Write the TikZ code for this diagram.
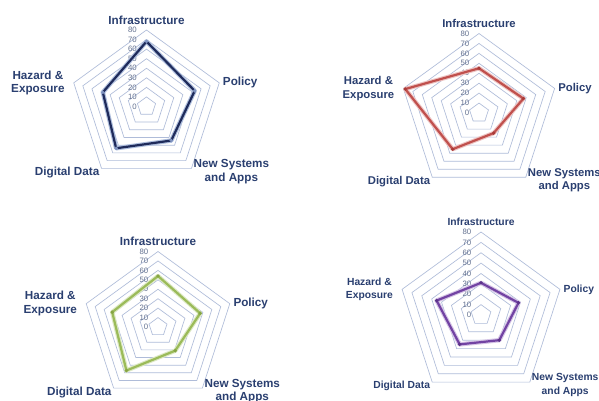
\documentclass[tikz,border=0pt]{standalone}
\usepackage{fontspec}
\setmainfont{Liberation Sans}
\usepackage{tikz}
\usetikzlibrary{positioning,calc}
\definecolor{labeltext}{HTML}{2A3F70}
\definecolor{ticktext}{HTML}{62708F}
\definecolor{gridblue}{HTML}{AFBCD9}
\definecolor{navyL}{HTML}{1F2B5B}
\definecolor{navyH}{HTML}{AEBEDD}
\definecolor{navyM}{HTML}{7E92BF}
\definecolor{redL}{HTML}{C0504D}
\definecolor{redH}{HTML}{EDC4C3}
\definecolor{redM}{HTML}{A93C39}
\definecolor{greenL}{HTML}{9BBB59}
\definecolor{greenH}{HTML}{DCE8C4}
\definecolor{greenM}{HTML}{86A544}
\definecolor{purpleL}{HTML}{7243A3}
\definecolor{purpleH}{HTML}{D5C4E6}
\definecolor{purpleM}{HTML}{5C338A}

\begin{document}
\begin{tikzpicture}[x=1pt,y=-1pt]
\tikzset{gridline/.style={draw=gridblue,line width=0.65pt}}
\tikzset{ticklabel/.style={text=ticktext,font=\fontsize{7.8}{8}\selectfont,inner sep=0pt,anchor=east}}
\tikzset{axislabel/.style={text=labeltext,font=\fontsize{\fs}{13.5}\selectfont\bfseries,align=center,inner sep=0pt}}
\tikzset{dataglow/.style={line width=4.4pt,line join=round}}
\tikzset{dataline/.style={line width=2.2pt,line join=round}}
\tikzset{datamark/.style={circle,inner sep=0pt,minimum size=3.8pt}}
\useasboundingbox[fill=white] (0,0) rectangle (599,401);
\foreach \n/\cx/\cy/\R/\fs/\col/\va/\vb/\vc/\vd/\ve in {
  1/146.5/106.5/76.5/11.7/navy/68/53/44/54/48,
  2/479/113/79.5/11.3/red/45/47/25/45/78,
  3/158/327/75.5/11.7/green/54/47/31/57/51,
  4/481/315/83/10.3/purple/31/38/30/35/45}{
\begin{scope}[shift={(\cx,\cy)}]
% rings 10 to 80
\foreach \r in {1,...,8}
  \draw[gridline] (-90:{\r*\R/8}) -- (-18:{\r*\R/8}) -- (54:{\r*\R/8})
    -- (126:{\r*\R/8}) -- (198:{\r*\R/8}) -- cycle;
\foreach \r [evaluate=\r as \t using int(10*\r)] in {0,...,8}
  \node[ticklabel] (tick\n-\r) at (-9.5,{-\r*\R/8}) {\t};
% outer corners
\coordinate (top\n) at (-90:\R);
\coordinate (right\n) at (-18:\R);
\coordinate (lowright\n) at (54:\R);
\coordinate (lowleft\n) at (126:\R);
\coordinate (left\n) at (198:\R);
\node[axislabel] (infra\n) at ($(top\n)+(0,-10)$) {Infrastructure};
\node[axislabel,anchor=west] (policy\n) at ($(right\n)+(3.5,0)$) {Policy};
\node[axislabel,anchor=west] (newsys\n) at ($(lowright\n)+(2,3)$) {New Systems\\and Apps};
\node[axislabel,anchor=east] (digital\n) at ($(lowleft\n)+(-2,4)$) {Digital Data};
\node[axislabel,anchor=east] (hazard\n) at ($(left\n)+(-9,0)$) {Hazard \&\\Exposure};
% scores
\foreach \v [count=\k from 0] in {\va,\vb,\vc,\vd,\ve}
  \coordinate (p\n-\k) at ({-90+72*\k}:{\v*\R/80});
\draw[dataglow,draw=\col H] (p\n-0) -- (p\n-1) -- (p\n-2) -- (p\n-3) -- (p\n-4) -- cycle;
\draw[dataline,draw=\col L] (p\n-0) -- (p\n-1) -- (p\n-2) -- (p\n-3) -- (p\n-4) -- cycle;
\foreach \k in {0,...,4}
  \node[datamark,fill=\col M] (m\n-\k) at (p\n-\k) {};
\end{scope}
}
\end{tikzpicture}
\end{document}
